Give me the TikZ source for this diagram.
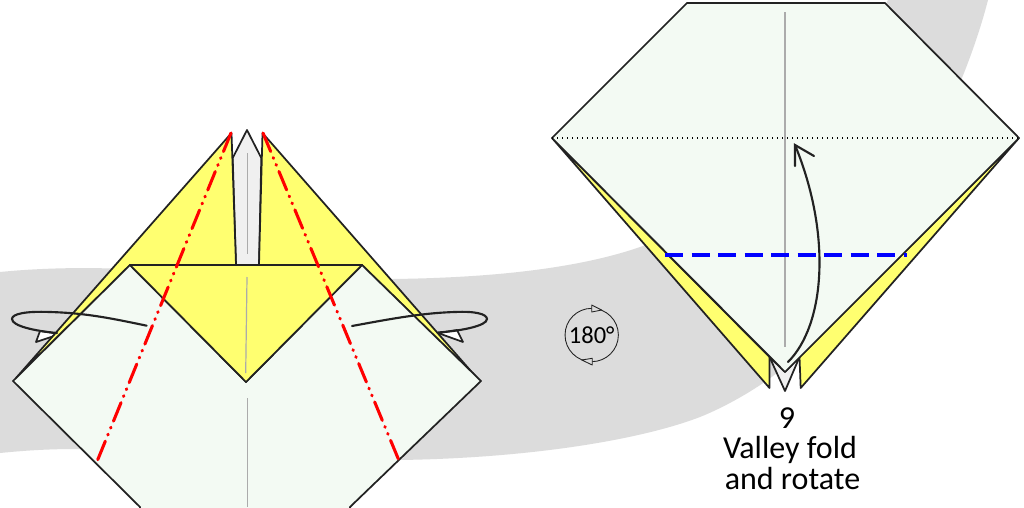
\documentclass[tikz,border=0pt]{standalone}
\usepackage{fontspec}
\setmainfont{Carlito}
\definecolor{bandgray}{HTML}{DCDCDC}
\definecolor{paperlight}{HTML}{F3FAF3}
\definecolor{paperyellow}{HTML}{FFFF70}
\definecolor{pocket}{HTML}{F0F0F0}
\definecolor{outline}{HTML}{222222}
\definecolor{creasegray}{HTML}{ABABAB}
\tikzset{
  edge/.style={draw=outline,line width=1.3pt,line join=round},
  crease/.style={draw=creasegray,line width=0.9pt},
  mountain/.style={draw=red,line width=2.3pt,line cap=round,dash pattern=on 15pt off 5pt on 0.6pt off 5pt on 0.6pt off 5pt},
  valley/.style={draw=blue,line width=2.3pt,dash pattern=on 13.5pt off 6.4pt},
  foldline/.style={draw=black,line width=0.9pt,dash pattern=on 1.1pt off 2.65pt},
  swing/.style={draw=outline,line width=1.6pt,line cap=round},
  caption/.style={anchor=base,font=\fontsize{24}{28}\selectfont,text=black,inner sep=0pt},
  thinline/.style={draw=outline,line width=0.65pt,line join=round},
}
\begin{document}
\begin{tikzpicture}[x=0.75pt,y=-0.75pt]
\useasboundingbox (0,0) rectangle (1024,507);
\fill[white] (0,0) rectangle (1024,507);
% grey band
\fill[bandgray] (0,272) .. controls (30,269) and (60,268) .. (90,268)
  .. controls (200,270) and (300,280) .. (393,279)
  .. controls (470,278) and (570,272) .. (643,246)
  .. controls (740,200) and (830,110) .. (888,0)
  -- (988,0)
  .. controls (970,70) and (930,160) .. (880,230)
  .. controls (850,280) and (810,340) .. (777,373)
  .. controls (755,390) and (725,407) .. (700,417)
  .. controls (640,440) and (530,458) .. (400,460)
  .. controls (280,462) and (160,449) .. (75,449)
  .. controls (45,449) and (20,451) .. (0,453) -- cycle;

% LEFT FIGURE
\path[edge,fill=white] (40,331) -- (36,342) -- (60,334) -- cycle;
\path[edge,fill=white] (457,330) -- (463,342) -- (438,333) -- cycle;
\path[edge,fill=pocket] (236,265) -- (232.7,158) -- (247,130) -- (261.3,158) -- (259,265) -- cycle;
\path[edge,fill=paperyellow] (231.5,133) -- (236,265) -- (130,265) -- (16,378) -- cycle;
\path[edge,fill=paperyellow] (262.5,133) -- (259,265) -- (362,265) -- (477,378) -- cycle;
\path[edge,fill=paperlight] (130,265) -- (13,381) -- (140,507) -- (140,520) -- (350,520) -- (350,507) -- (481,381) -- (362,265) -- (246,382) -- cycle;
\path[edge,fill=paperyellow] (130,265) -- (362,265) -- (246,382) -- cycle;
\draw[crease] (247.5,153) -- (247.5,254);
\draw[crease] (247,277) -- (245.7,373);
\draw[crease] (247.5,398) -- (247.5,507);
\coordinate (lapex) at (231,133);
\coordinate (lfoot) at (96,464);
\coordinate (rapex) at (263,133);
\coordinate (rfoot) at (400,463);
\draw[mountain] (lapex) -- (lfoot);
\draw[mountain] (rapex) -- (rfoot);
\draw[swing] (146.7,325.7) .. controls (110,318) and (85,313) .. (50,312)
  .. controls (25,311) and (12,314) .. (12,319)
  .. controls (12,326) and (35,331) .. (57,333);
\draw[swing] (352,326) .. controls (385,320) and (420,313) .. (455,312)
  .. controls (475,311) and (487,314) .. (487,319)
  .. controls (487,326) and (460,331) .. (438,332.5);

% ROTATION SYMBOL
\node[circle,thinline,minimum size=40pt,inner sep=0pt,font=\fontsize{18.4}{20}\selectfont] (rot) at (591.7,335) {180°};
\path[thinline,fill=bandgray] (591.7,305) -- (601.7,310) -- (591.7,312) -- cycle;
\path[thinline,fill=bandgray] (592.3,358.3) -- (592.3,365) -- (581.7,360) -- cycle;

% RIGHT FIGURE
\path[edge,fill=paperyellow] (552,138) -- (769.5,388) -- (769.5,357) -- cycle;
\path[edge,fill=paperyellow] (1019,138) -- (800.7,388) -- (799.5,357) -- cycle;
\path[edge,fill=pocket] (769.5,357) -- (785,391) -- (799.5,357) -- (785,372) -- cycle;
\path[edge,fill=paperlight] (687,3) -- (885,3) -- (1019,138) -- (785,372) -- (552,138) -- cycle;
\draw[crease] (785,12) -- (785,347);
\coordinate (fl) at (552,138);
\coordinate (fr) at (1019,138);
\draw[foldline] (fl) -- (fr);
\coordinate (vl) at (665,255);
\coordinate (vr) at (907,255);
\draw[valley] (vl) -- (vr);
\coordinate (as) at (788,362);
\coordinate (at) at (795,145);
\draw[swing] (as) .. controls (825,325) and (832,235) .. (at);
\draw[swing] (795,166) -- (at) -- (814,156);

% CAPTION
\node[caption] (cnum) at (787,428) {9};
\node[caption] (cone) at (790,458) {Valley fold};
\node[caption] (ctwo) at (792.5,489) {and rotate};
\end{tikzpicture}
\end{document}
